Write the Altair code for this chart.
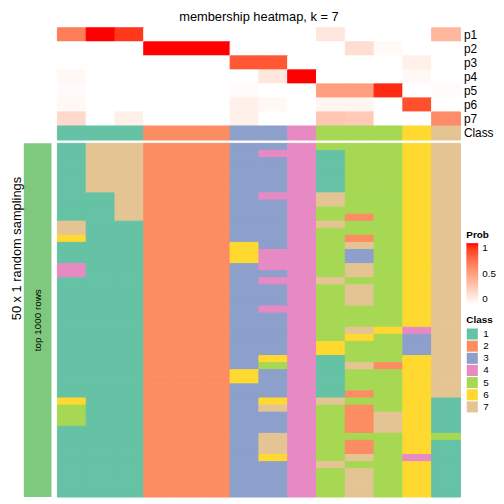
import altair as alt
import pandas as pd

FONT = "Liberation Sans"

# ---- data -------------------------------------------------------------
samples = [f"s{i:02d}" for i in range(1, 15)]
sample_class = ["1", "1", "1", "2", "2", "2", "3", "3", "4", "5", "5", "5", "6", "7"]

prob_rows = ["p1", "p2", "p3", "p4", "p5", "p6", "p7"]
p1 = [0.66, 1.00, 0.92, 0, 0, 0, 0, 0, 0, 0.13, 0, 0, 0, 0.38]
p2 = [0, 0, 0, 1.00, 1.00, 1.00, 0, 0, 0, 0, 0.18, 0.03, 0, 0]
p3 = [0, 0, 0, 0, 0, 0, 0.82, 0.82, 0, 0, 0, 0, 0.08, 0]
p4 = [0.04, 0, 0, 0, 0, 0, 0, 0.13, 1.00, 0, 0, 0, 0.04, 0]
p5 = [0.02, 0, 0, 0, 0, 0, 0.02, 0, 0, 0.50, 0.50, 0.95, 0, 0.02]
p6 = [0.04, 0, 0, 0, 0, 0, 0.08, 0.04, 0, 0.05, 0.05, 0, 0.85, 0]
p7 = [0.20, 0, 0.08, 0, 0, 0, 0.08, 0, 0, 0.30, 0.28, 0, 0, 0.60]

# class of each sample in each of the 50 random samplings (top to bottom)
s01 = "1111111111" "1776111441" "1111111111" "1111116555" "1111111111"
s02 = "7777777111" "1111111111" "1111111111" "1111111111" "1111111111"
s03 = "7777777777" "7111111111" "1111111111" "1111111111" "1111111111"
s04 = "2222222222" "2222222222" "2222222222" "2222222222" "2222222222"
s05 = "2222222222" "2222222222" "2222222222" "2222222222" "2222222222"
s06 = "2222222222" "2222222222" "2222222222" "2222222222" "2222222222"
s07 = "3333333333" "3333666333" "3333333333" "3366333333" "3333333333"
s08 = "3433333433" "3333344434" "3334333333" "6533336733" "3777633333"
s09 = "4444444444" "4444444444" "4444444444" "4444444444" "4444444444"
s10 = "5111111775" "5755555557" "5555555566" "1111117555" "5555575555"
s11 = "5555555555" "2552733775" "7775557655" "5755525222" "2522757777"
s12 = "5555555555" "5555555555" "5555556555" "5255555577" "7555555555"
s13 = "6666666666" "6666666666" "6666664333" "6666666666" "6666466666"
s14 = "7777777777" "7777777777" "7777777777" "7777771111" "1511111111"
samplings = [s01, s02, s03, s04, s05, s06, s07, s08, s09, s10, s11, s12, s13, s14]

class_labels = ["1", "2", "3", "4", "5", "6", "7"]
class_colors = ["#66C2A5", "#FC8D62", "#8DA0CB", "#E78AC3", "#A6D854", "#FFD92F", "#E5C494"]

# ---- tables -----------------------------------------------------------
prob_df = pd.DataFrame(
    [
        {"sample": s, "row": r, "prob": v}
        for r, vals in zip(prob_rows, [p1, p2, p3, p4, p5, p6, p7])
        for s, v in zip(samples, vals)
    ]
)
class_df = pd.DataFrame({"sample": samples, "row": "Class", "cls": sample_class})
bottom_df = pd.DataFrame(
    [
        {"sample": s, "draw": i, "cls": col[i]}
        for s, col in zip(samples, samplings)
        for i in range(len(col))
    ]
)
bar_df = pd.DataFrame({"group": ["top 1000 rows"], "k": ["50 x 1 random samplings"]})
spacer_df = pd.DataFrame({"a": [0]})

W = 408
TOP_H = 8 * 14.2
BOT_H = 358
BAR_W = 28

row_domain = prob_rows + ["Class"]

xcol = alt.X("sample:N", sort=samples, axis=None, scale=alt.Scale(domain=samples, paddingInner=0, paddingOuter=0))
ytop = alt.Y(
    "row:N",
    scale=alt.Scale(domain=row_domain, paddingInner=0, paddingOuter=0),
    axis=alt.Axis(orient="right", title=None, ticks=False, domain=False, labelFont=FONT,
                  labelFontSize=12, labelPadding=3, labelColor="black"),
)

prob_scale = alt.Scale(domain=[0, 1], range=["#ffffff", "#ff0000"], interpolate="lab")
class_scale = alt.Scale(domain=class_labels, range=class_colors)
class_legend = alt.Legend(
    title="Class", orient="none", legendX=448, legendY=291,
    symbolType="square", symbolSize=125, symbolStrokeWidth=0, symbolOpacity=1,
    rowPadding=0.3, labelFont=FONT, labelFontSize=10, labelColor="black", labelOffset=5,
    titleFont=FONT, titleFontSize=10, titleFontWeight="bold", titleColor="black", titlePadding=3,
)

prob_layer = alt.Chart(prob_df).mark_rect(strokeWidth=1).encode(
    x=xcol,
    y=ytop,
    color=alt.Color(
        "prob:Q",
        scale=prob_scale,
        legend=alt.Legend(
            title="Prob", orient="none", legendX=448, legendY=205, values=[0, 0.5, 1], format="~g",
            gradientLength=62, gradientThickness=12, gradientStrokeWidth=0,
            labelFont=FONT, labelFontSize=10, labelColor="black", labelOffset=4,
            titleFont=FONT, titleFontSize=10, titleFontWeight="bold", titleColor="black", titlePadding=3,
        ),
    ),
    stroke=alt.Stroke("prob:Q", scale=prob_scale, legend=None),
)
class_layer = alt.Chart(class_df).mark_rect(strokeWidth=1).encode(
    x=xcol,
    y=ytop,
    fill=alt.Fill("cls:N", scale=class_scale, legend=class_legend),
    stroke=alt.Stroke("cls:N", scale=class_scale, legend=None),
)
top = alt.layer(prob_layer, class_layer).properties(
    width=W, height=TOP_H,
    title=alt.TitleParams("membership heatmap, k = 7", font=FONT, fontSize=13, fontWeight="normal",
                          color="black", anchor="middle", offset=3),
)

bottom = alt.Chart(bottom_df).mark_rect(strokeWidth=1).encode(
    x=xcol,
    y=alt.Y("draw:O", axis=None, scale=alt.Scale(paddingInner=0, paddingOuter=0)),
    fill=alt.Fill("cls:N", scale=class_scale, legend=class_legend),
    stroke=alt.Stroke("cls:N", scale=class_scale, legend=None),
).properties(width=W, height=BOT_H)

bar_rect = alt.Chart(bar_df).mark_rect(color="#7FC97F").encode(
    x=alt.X("group:N", axis=None, scale=alt.Scale(paddingInner=0, paddingOuter=0)),
    y=alt.Y(
        "k:N",
        scale=alt.Scale(paddingInner=0, paddingOuter=0),
        axis=alt.Axis(labels=False, ticks=False, domain=False, title="50 x 1 random samplings",
                      titleFont=FONT, titleFontSize=13, titleFontWeight="normal", titleColor="black",
                      titlePadding=0, titleY=106, titleAlign="center"),
    ),
)
bar_text = alt.Chart(bar_df).mark_text(angle=270, font=FONT, fontSize=10, color="black").encode(
    x=alt.X("group:N", axis=None),
    y=alt.Y("k:N"),
    text="group:N",
)
bar = alt.layer(bar_rect, bar_text).properties(width=BAR_W, height=BOT_H)

spacer = alt.Chart(spacer_df).mark_point(opacity=0).encode(
    x=alt.value(0), y=alt.value(0)
).properties(width=BAR_W, height=TOP_H)

chart = (
    alt.concat(spacer, top, bar, bottom, columns=2, align="each", bounds="flush",
               spacing={"row": 3, "column": 6})
    .resolve_scale(fill="shared", stroke="shared")
    .properties(padding={"left": 3, "top": 0, "right": 0, "bottom": 0})
    .configure_view(stroke=None)
)

chart.save("out.html", embed_options={"renderer": "svg", "actions": False})
